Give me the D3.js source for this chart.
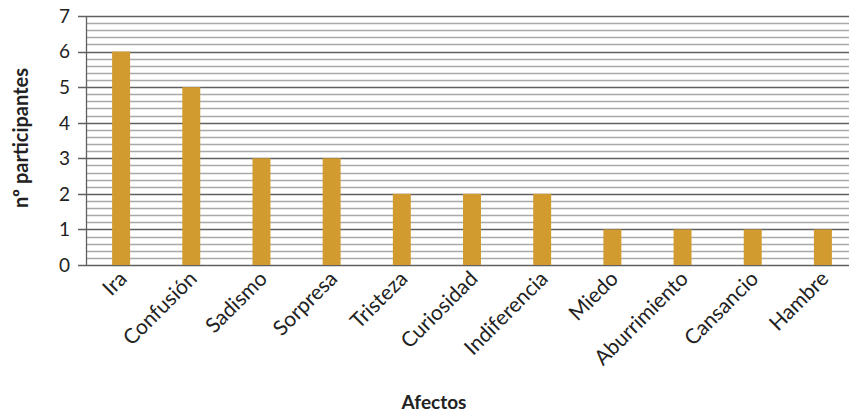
<!DOCTYPE html>
<html><head><meta charset="utf-8">
<script src="https://cdn.jsdelivr.net/npm/d3@7"></script>
<style>body{margin:0;background:#fff;overflow:hidden}</style>
</head><body>
<svg id="c" width="849" height="419"></svg>
<script>
const categories = ["Ira","Confusión","Sadismo","Sorpresa","Tristeza","Curiosidad","Indiferencia","Miedo","Aburrimiento","Cansancio","Hambre"];
const values = [6,5,3,3,2,2,2,1,1,1,1];
const yTicks = [0,1,2,3,4,5,6,7];
const yTitle = "nº participantes";
const xTitle = "Afectos";

const svg = d3.select("#c");
const L = 86, T = 16, B = 265, R = 858;
const x = d3.scaleBand().domain(categories).range([L, R]).padding(0);
const y = d3.scaleLinear().domain([0, 7]).range([B, T]);
const font = "Lato, 'Open Sans', sans-serif";

// minor gridlines
const minor = d3.range(0, 7.0001, 0.2).filter(v => Math.abs(v - Math.round(v)) > 1e-6);
svg.append("g").selectAll("line").data(minor).join("line")
  .attr("x1", L).attr("x2", 849)
  .attr("y1", d => Math.round(y(d)) + 0.5).attr("y2", d => Math.round(y(d)) + 0.5)
  .attr("stroke", "#a9a9a9").attr("stroke-width", 1.3);
// major gridlines
svg.append("g").selectAll("line").data(yTicks).join("line")
  .attr("x1", L - 8).attr("x2", 849)
  .attr("y1", d => Math.round(y(d)) + 0.5).attr("y2", d => Math.round(y(d)) + 0.5)
  .attr("stroke", "#606060").attr("stroke-width", 1.3);
// y axis line
svg.append("line").attr("x1", L + 0.5).attr("x2", L + 0.5).attr("y1", T).attr("y2", B + 1)
  .attr("stroke", "#606060").attr("stroke-width", 1.3);

// bars
const bw = x.bandwidth() * 0.256;
svg.append("g").selectAll("rect").data(values).join("rect")
  .attr("x", (d, i) => x(categories[i]) + x.bandwidth() / 2 - bw / 2)
  .attr("width", bw)
  .attr("y", d => y(d))
  .attr("height", d => y(0) - y(d))
  .attr("fill", "#d19b2f");

// y tick labels
svg.append("g").selectAll("text").data(yTicks).join("text")
  .attr("x", 70).attr("y", d => y(d)).attr("dy", "0.36em")
  .attr("text-anchor", "end").attr("font-family", font).attr("font-size", 19)
  .attr("fill", "#222").text(d => d);

// x labels
svg.append("g").selectAll("text").data(categories).join("text")
  .attr("transform", d => `translate(${x(d) + x.bandwidth() / 2 + 7},${280}) rotate(-45)`)
  .attr("text-anchor", "end").attr("font-family", font).attr("font-size", 21)
  .attr("fill", "#222").text(d => d);

// titles
svg.append("text").attr("transform", "translate(28,138) rotate(-90)")
  .attr("text-anchor", "middle").attr("font-family", font).attr("font-weight", "bold")
  .attr("font-size", 20).attr("fill", "#222").text(yTitle);
svg.append("text").attr("x", 434).attr("y", 409)
  .attr("text-anchor", "middle").attr("font-family", font).attr("font-weight", "bold")
  .attr("font-size", 19).attr("fill", "#222").text(xTitle);
</script>
</body></html>
